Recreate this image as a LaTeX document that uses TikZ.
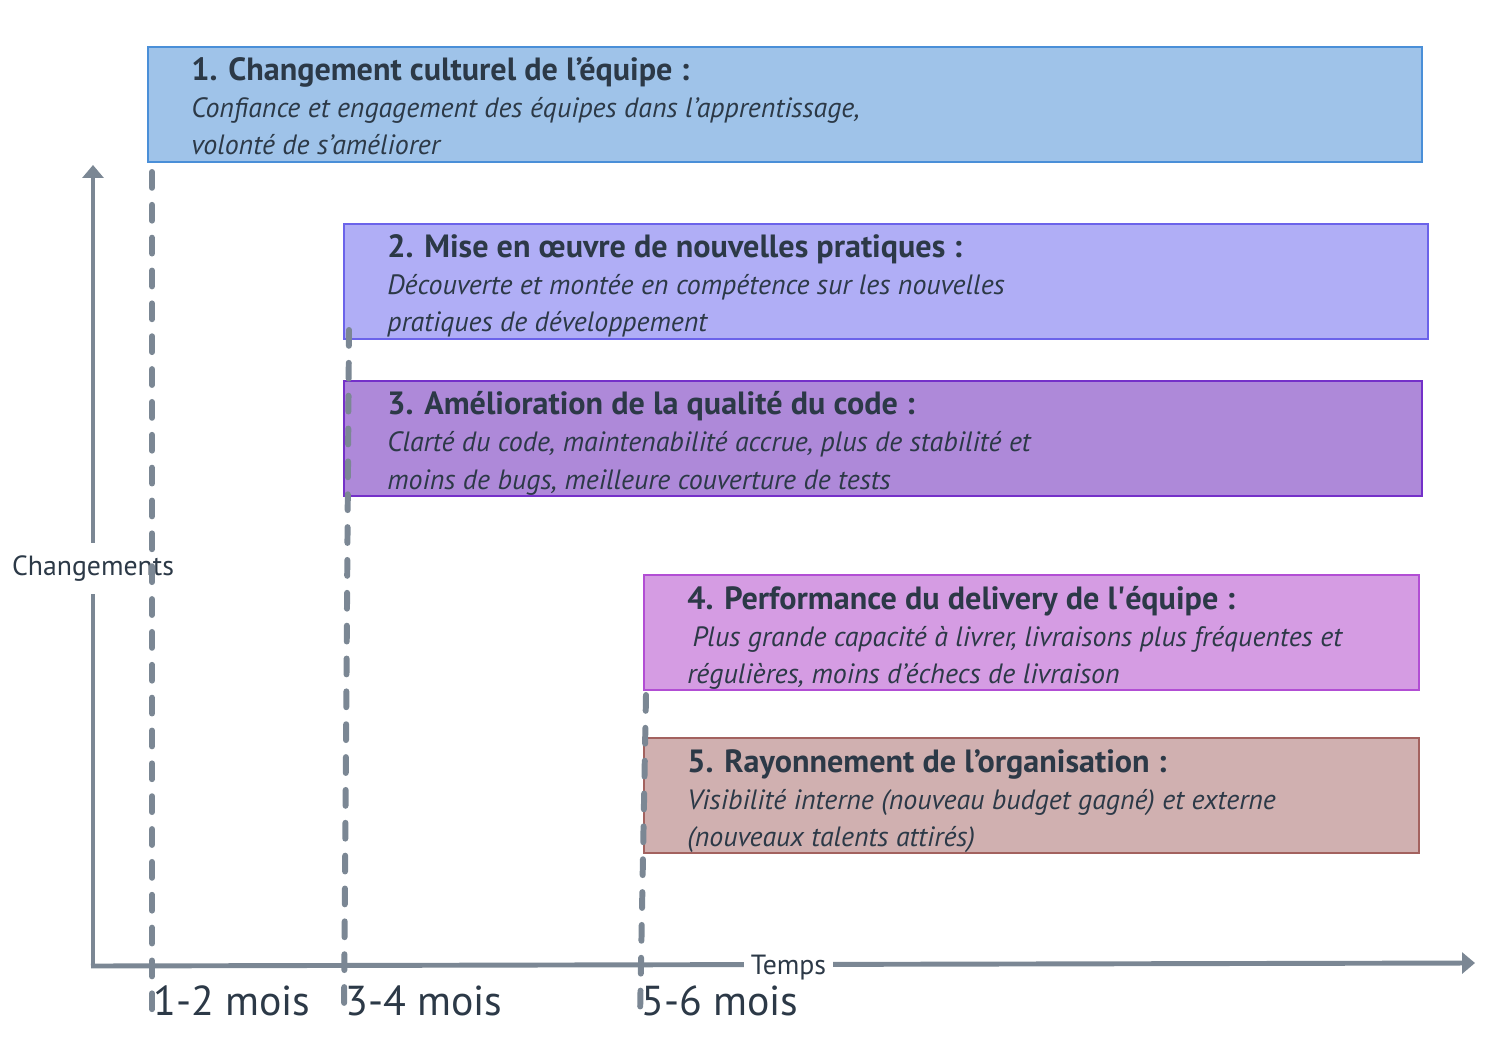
\documentclass[tikz,border=0pt]{standalone}
\usepackage{fontspec}
\setmainfont{PT Sans}
\usetikzlibrary{arrows.meta}
\definecolor{axisgray}{HTML}{7B8794}
\definecolor{inkdark}{HTML}{2C3947}
\definecolor{fillA}{HTML}{9FC3E9}\definecolor{lineA}{HTML}{4A8FD8}
\definecolor{fillB}{HTML}{B0AEF6}\definecolor{lineB}{HTML}{6B63EA}
\definecolor{fillC}{HTML}{AE89D9}\definecolor{lineC}{HTML}{7430C9}
\definecolor{fillD}{HTML}{D59CE3}\definecolor{lineD}{HTML}{B24ED4}
\definecolor{fillE}{HTML}{D0B0B0}\definecolor{lineE}{HTML}{A3625F}
\tikzset{
  axis/.style={line width=2.8pt, draw=axisgray, -{Triangle[length=0.26cm,width=0.42cm]}},
  milestone/.style={line width=3.4pt, draw=axisgray, line cap=round, dash pattern=on 9pt off 9.7pt},
  axislabel/.style={fill=white, text=inkdark, font=\fontsize{15.8}{18}\selectfont, inner xsep=3pt, inner ysep=7pt},
  monthlabel/.style={anchor=base west, text=inkdark, font=\fontsize{23.8}{28}\selectfont, inner sep=0pt},
  phasetitle/.style={anchor=base west, inner sep=0pt, font=\fontsize{18.3}{21}\selectfont\bfseries},
  phasetext/.style={anchor=base west, inner sep=0pt, font=\fontsize{15.9}{18}\selectfont\itshape}
}
\begin{document}
\begin{tikzpicture}[x=0.02cm, y=-0.02cm, every node/.style={text=inkdark}]
  \useasboundingbox (0,0) rectangle (1500,1050);
  % Phase boxes
  \foreach \n/\xa/\ya/\xb/\c/\ti/\la/\lb in {
    1/148/47/1422/A/{1. Changement culturel de l’équipe :}/{Confiance et engagement des équipes dans l’apprentissage,}/{volonté de s’améliorer},
    2/344/224/1428/B/{2. Mise en œuvre de nouvelles pratiques :}/{Découverte et montée en compétence sur les nouvelles}/{pratiques de développement},
    3/344/381/1422/C/{3. Amélioration de la qualité du code :}/{Clarté du code, maintenabilité accrue, plus de stabilité et}/{moins de bugs, meilleure couverture de tests},
    4/644/575/1419/D/{4. Performance du delivery de l\textquotesingle équipe :}/{\hspace{3pt}Plus grande capacité à livrer, livraisons plus fréquentes et}/{régulières, moins d’échecs de livraison},
    5/644/738/1419/E/{5. Rayonnement de l’organisation :}/{Visibilité interne (nouveau budget gagné) et externe}/{(nouveaux talents attirés)}} {
    \draw[fill=fill\c, draw=line\c, line width=1.3pt] (\xa,\ya) rectangle (\xb,\ya+115);
    \node[phasetitle] (t\n) at (\xa+43,\ya+34) {\ti};
    \node[phasetext] (a\n) at (\xa+43,\ya+71) {\la};
    \node[phasetext] (b\n) at (\xa+43,\ya+108) {\lb};
  }
  % Axes
  \coordinate (origin) at (93,967);
  \coordinate (ytip) at (93,165);
  \coordinate (xstart) at (91,966);
  \coordinate (xtip) at (1475,963);
  \draw[axis] (origin) -- node[axislabel, pos=0.497] (yl) {Changements} (ytip);
  \draw[axis] (xstart) -- node[axislabel, pos=0.504, yshift=-1.5pt, inner ysep=3pt, inner xsep=4pt] (xl) {Temps} (xtip);
  % Milestones
  \foreach \m/\xt/\yt/\xbot/\lbl in {1/152/172/152/1-2 mois, 2/349/330/344/3-4 mois, 3/646/695/640/5-6 mois} {
    \coordinate (mtop\m) at (\xt,\yt);
    \coordinate (mbot\m) at (\xbot,1018);
    \draw[milestone] (mtop\m) -- (mbot\m);
    \node[monthlabel] (ml\m) at (\xbot+1,1015) {\lbl};
  }
\end{tikzpicture}
\end{document}
